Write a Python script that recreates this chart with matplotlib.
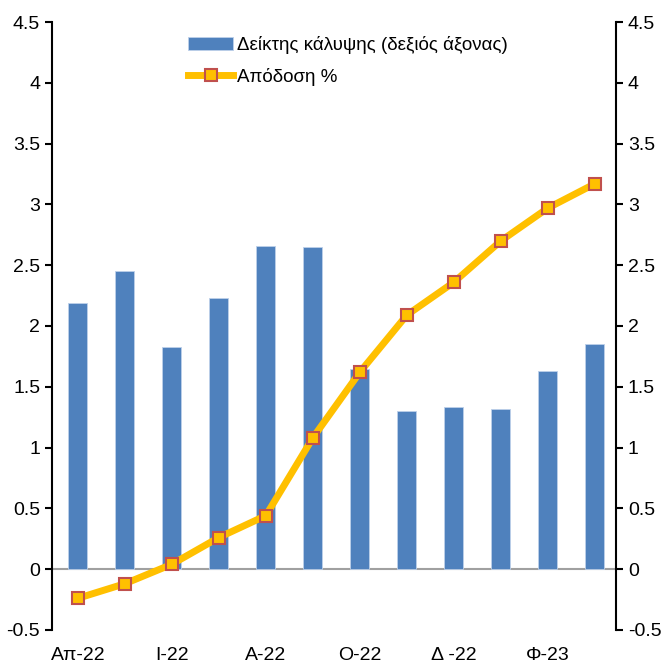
import numpy as np
import matplotlib.pyplot as plt

# -------------------------------------------------
# Data
# -------------------------------------------------

months = ["Απ-22", "Μ-22", "Ι-22", "Ι-22b", "Α-22", "Σ-22",
          "Ο-22", "Ν-22", "Δ -22", "Ι-23", "Φ-23", "Μ-23"]
tick_labels = ["Απ-22", "Ι-22", "Α-22", "Ο-22", "Δ -22", "Φ-23"]

coverage = [2.19, 2.45, 1.83, 2.23, 2.66, 2.65,
            1.65, 1.30, 1.33, 1.32, 1.63, 1.85]
yield_pct = [-0.24, -0.12, 0.04, 0.26, 0.44, 1.08,
             1.62, 2.09, 2.36, 2.70, 2.97, 3.17]

plt.rcParams["font.family"] = ["Liberation Sans", "DejaVu Sans"]

# -------------------------------------------------
# Figure
# -------------------------------------------------

fig = plt.figure(figsize=(6.66, 6.68), dpi=100)
ax = fig.add_axes([0.078, 0.057, 0.847, 0.91])
ax2 = ax.twinx()

x = np.arange(len(months))

bars = ax2.bar(x, coverage, width=0.4, color="#4F81BD",
               edgecolor="#BDD0E9", linewidth=0.6,
               label="Δείκτης κάλυψης (δεξιός άξονας)", zorder=2)

line, = ax.plot(x, yield_pct, color="#FFC000", linewidth=5,
                marker="s", markersize=9, markerfacecolor="#FFC000",
                markeredgecolor="#C0504D", markeredgewidth=1.5,
                label="Απόδοση %", zorder=5)

# line above bars
ax.set_zorder(ax2.get_zorder() + 1)
ax.patch.set_visible(False)

for a in (ax, ax2):
    a.set_ylim(-0.5, 4.5)
    a.set_yticks(np.arange(-0.5, 4.51, 0.5))
    a.set_yticklabels([f"{v:g}" for v in np.arange(-0.5, 4.51, 0.5)])
    a.set_xlim(-0.55, 11.45)
    a.spines["top"].set_visible(False)
    a.spines["bottom"].set_visible(False)
    a.tick_params(axis="y", labelsize=14, length=5, width=1.5,
                  direction="out", colors="black")

ax.spines["right"].set_visible(False)
ax2.spines["left"].set_visible(False)
ax.spines["left"].set_linewidth(1.5)
ax2.spines["right"].set_linewidth(1.5)

ax2.axhline(0, color="#A0A0A0", linewidth=1.5, zorder=1)

ax.set_xticks(x[::2])
ax.set_xticklabels(tick_labels, fontsize=14)
ax.tick_params(axis="x", length=0, pad=12)
ax2.tick_params(axis="x", length=0)

ax.legend([bars, line], [bars.get_label(), line.get_label()],
          loc="upper center", bbox_to_anchor=(0.525, 1.005), frameon=False,
          fontsize=13.5, handlelength=2.4, handletextpad=0.2,
          labelspacing=0.75)

plt.savefig("out.png", dpi=100)
